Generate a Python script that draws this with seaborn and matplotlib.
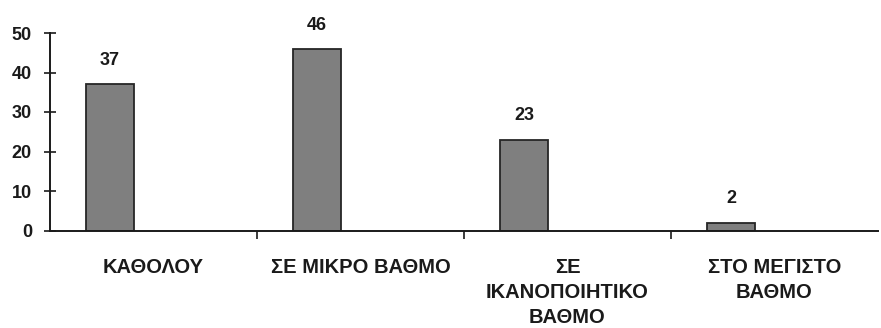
import matplotlib
matplotlib.use("Agg")
import matplotlib.pyplot as plt
import pandas as pd
import seaborn as sns

categories = ["ΚΑΘΟΛΟΥ", "ΣΕ ΜΙΚΡΟ ΒΑΘΜΟ", "ΣΕ\nΙΚΑΝΟΠΟΙΗΤΙΚΟ\nΒΑΘΜΟ", "ΣΤΟ ΜΕΓΙΣΤΟ\nΒΑΘΜΟ"]
counts = [37, 46, 23, 2]
y_ticks = [0, 10, 20, 30, 40, 50]

sns.set_theme(style="ticks")
plt.rcParams["font.family"] = ["Liberation Sans", "DejaVu Sans"]
plt.rcParams["font.weight"] = "bold"
plt.rcParams["text.color"] = "#1a1a1a"

df = pd.DataFrame({"answer": categories, "count": counts})

fig = plt.figure(figsize=(8.81, 3.28), dpi=100)
ax = fig.add_axes([50 / 881, 1 - 230.5 / 328, 828 / 881, 197.5 / 328])

sns.barplot(data=df, x="answer", y="count", order=categories,
            color="#7f7f7f", saturation=1, width=0.235,
            edgecolor="#262626", linewidth=1.3, ax=ax)

# bars sit in the left part of each category slot
shift = -0.21
for bar in ax.patches:
    bar.set_x(bar.get_x() + shift)

ax.bar_label(ax.containers[0], padding=11, fontsize=13,
             fontweight="bold", color="#1a1a1a")

ax.set_xlim(-0.5, 3.5)
ax.set_ylim(0, 50)
ax.set_yticks(y_ticks)
ax.set_xlabel("")
ax.set_ylabel("")

for side in ("top", "right"):
    ax.spines[side].set_visible(False)
for side in ("left", "bottom"):
    ax.spines[side].set_color("#1a1a1a")
    ax.spines[side].set_linewidth(1.4)

ax.tick_params(axis="y", direction="inout", length=8, width=1.2,
               color="#1a1a1a", labelsize=13, labelcolor="#1a1a1a", pad=9)
ax.tick_params(axis="x", which="major", length=0, pad=20,
               labelsize=14.5, labelcolor="#1a1a1a")
ax.set_xticks([0.5, 1.5, 2.5], minor=True)
ax.tick_params(axis="x", which="minor", direction="out", length=6,
               width=1.2, color="#1a1a1a")
for lbl in ax.get_xticklabels():
    lbl.set_fontweight("bold")
    lbl.set_linespacing(1.38)
for lbl in ax.get_yticklabels():
    lbl.set_fontweight("bold")

fig.savefig("out.png", dpi=100)
